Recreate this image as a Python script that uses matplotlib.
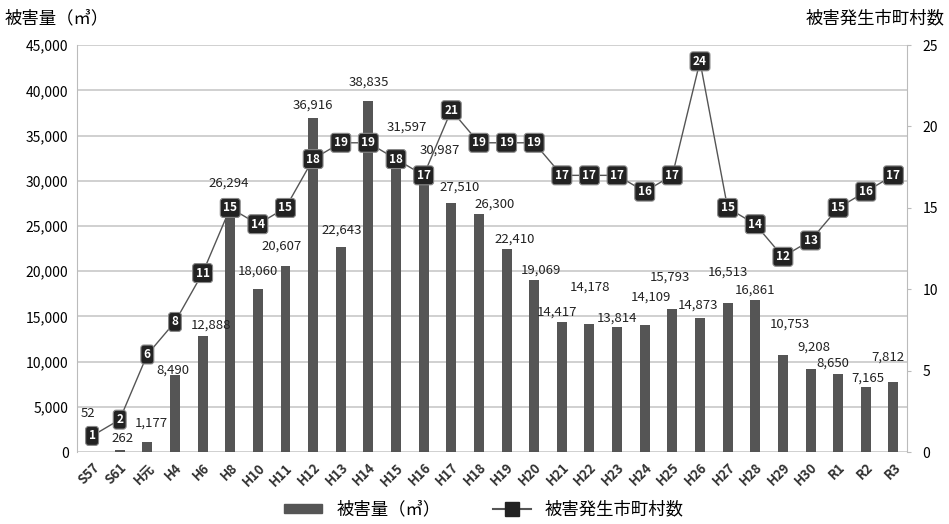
import numpy as np
import matplotlib.pyplot as plt
from matplotlib.lines import Line2D
from matplotlib.patches import Patch

plt.rcParams['font.family'] = ['Noto Sans CJK JP', 'DejaVu Sans']

years = ['S57', 'S61', 'H元', 'H4', 'H6', 'H8', 'H10', 'H11', 'H12', 'H13',
         'H14', 'H15', 'H16', 'H17', 'H18', 'H19', 'H20', 'H21', 'H22', 'H23',
         'H24', 'H25', 'H26', 'H27', 'H28', 'H29', 'H30', 'R1', 'R2', 'R3']
damage = [52, 262, 1177, 8490, 12888, 26294, 18060, 20607, 36916, 22643,
          38835, 31597, 30987, 27510, 26300, 22410, 19069, 14417, 14178, 13814,
          14109, 15793, 14873, 16513, 16861, 10753, 9208, 8650, 7165, 7812]
towns = [1, 2, 6, 8, 11, 15, 14, 15, 18, 19, 19, 18, 17, 21, 19, 19, 19, 17,
         17, 17, 16, 17, 24, 15, 14, 12, 13, 15, 16, 17]

# label offsets from bar top, in pixels (dx, dy)
lab_dx = [-4, 3, 4, -2, 8, -1, 0, -4, 0, 1, 0, 11, 16, 8, 16, 8, 7, -5, 1, 0,
          6, -2, -2, 0, 0, 7, 3, -5, 2, -6]
lab_dy = [38, 11, 18, 5, 10, 31, 18, 20, 13, 17, 19, 39, 22, 16, 10, 10, 10, 10, 37, 9,
          27, 32, 13, 31, 10, 31, 22, 11, 9, 24]

x = np.arange(len(years))

fig = plt.figure(figsize=(9.49, 5.24), dpi=100)
ax = fig.add_axes([0.081, 0.137, 0.875, 0.777])
ax2 = ax.twinx()

ax.bar(x, damage, width=0.36, color='#555555', zorder=2)
for xi, v, dx, dy in zip(x, damage, lab_dx, lab_dy):
    ax.annotate(f'{v:,}', (xi, v), xytext=(dx, dy), textcoords='offset pixels',
                ha='center', va='center', fontsize=9.5, color='#222222', zorder=3)

ax.set_ylim(0, 45000)
ax.set_yticks(np.arange(0, 45001, 5000))
ax.set_yticklabels([f'{t:,}' for t in range(0, 45001, 5000)], fontsize=10)
ax.set_xlim(-0.55, 29.5)
ax.set_xticks(x)
ax.set_xticklabels(years, rotation=45, ha='right', rotation_mode='anchor',
                   fontsize=9.5, fontweight='bold', color='#333333')
ax.grid(axis='y', color='#c8c8c8', linewidth=1.2, zorder=0)
ax.tick_params(length=0, pad=6)
for s in ['top', 'bottom', 'left', 'right']:
    ax.spines[s].set_visible(False)
ax.spines['left'].set_visible(True)
ax.spines['left'].set_color('#bbbbbb')

ax2.plot(x, towns, color='#555555', linewidth=1.0, zorder=4)
for xi, t in zip(x, towns):
    ax2.text(xi, t, str(t), ha='center', va='center', fontsize=8.5,
             fontweight='bold', color='white', zorder=5,
             bbox=dict(boxstyle='round,pad=0.25', fc='#222222', ec='#888888', lw=0.8))
ax2.set_ylim(0, 25)
ax2.set_yticks(range(0, 26, 5))
ax2.tick_params(axis='y', labelsize=10, length=3, color='#bbbbbb', pad=8)
for s in ['top', 'bottom', 'left']:
    ax2.spines[s].set_visible(False)
ax2.spines['right'].set_color('#bbbbbb')

fig.text(0.005, 0.965, '被害量（㎥）', fontsize=12.5, ha='left', va='center')
fig.text(0.995, 0.965, '被害発生市町村数', fontsize=12.5, ha='right', va='center')

handles = [Patch(color='#555555'),
           Line2D([0], [0], color='#555555', marker='s', markersize=10,
                  markerfacecolor='#222222', markeredgecolor='#222222')]
fig.legend(handles, ['被害量（㎥）', '被害発生市町村数'], loc='center',
           bbox_to_anchor=(0.51, 0.028), ncol=2, frameon=False, fontsize=12.5,
           handlelength=2.2, handleheight=0.4, columnspacing=3)

fig.savefig('out.png', dpi=100)
